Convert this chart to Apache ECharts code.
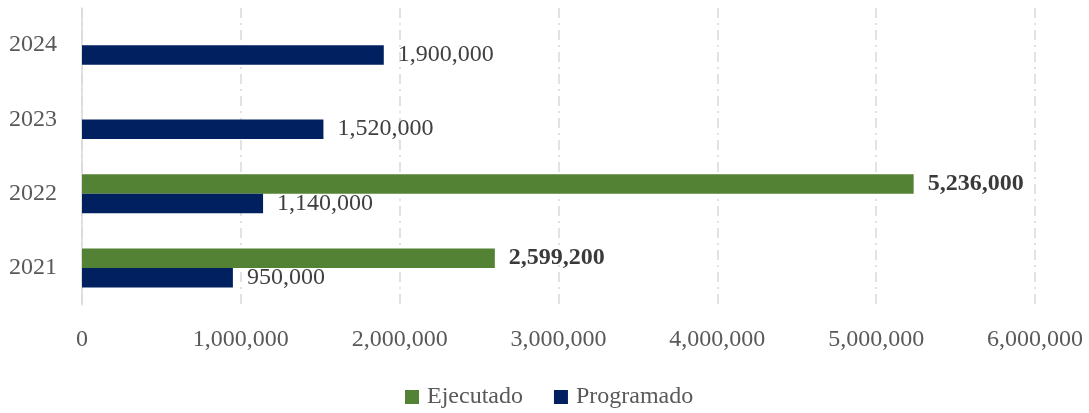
<!DOCTYPE html>
<html>
<head>
<meta charset="utf-8">
<script src="https://cdn.jsdelivr.net/npm/echarts@6/dist/echarts.min.js"></script>
<style>
  html, body { margin: 0; padding: 0; background: #fff; }
  #chart { width: 1089px; height: 413px; }
</style>
</head>
<body>
<div id="chart"></div>
<script>
// Años (de abajo hacia arriba) y montos por serie
const years = ['2021', '2022', '2023', '2024'];
const ejecutado = [2599200, 5236000, null, null];
const programado = [950000, 1140000, 1520000, 1900000];
const seriesNames = ['Ejecutado', 'Programado'];

const FONT = '"Liberation Serif", "DejaVu Serif", serif';
const SIZE = 24;
const fmt = v => Number(v).toLocaleString('en-US');

const chart = echarts.init(document.getElementById('chart'), null, { renderer: 'canvas' });

chart.setOption({
  animation: false,
  textStyle: { fontFamily: FONT },
  grid: { left: 82, right: 54, top: 8, bottom: 108, containLabel: false },
  legend: {
    data: seriesNames,
    top: 380,
    left: 400,
    itemWidth: 14,
    itemHeight: 14,
    itemGap: 31,
    icon: 'rect',
    textStyle: { fontFamily: FONT, fontSize: SIZE, color: '#595959', padding: [0, 0, 0, 3] }
  },
  xAxis: {
    type: 'value',
    min: 0,
    max: 6000000,
    interval: 1000000,
    axisLine: { show: false },
    axisTick: { show: false },
    axisLabel: {
      margin: 23,
      fontFamily: FONT,
      fontSize: SIZE,
      color: '#595959',
      formatter: v => fmt(v)
    },
    splitLine: {
      show: true,
      lineStyle: { color: '#d9d9d9', width: 1.5, type: [10, 5, 2, 5] }
    }
  },
  yAxis: {
    type: 'category',
    data: years,
    axisLine: { show: true, lineStyle: { color: '#d9d9d9', width: 1.5 } },
    axisTick: { show: false },
    axisLabel: {
      margin: 25,
      fontFamily: FONT,
      fontSize: SIZE,
      color: '#595959'
    },
    splitLine: { show: false }
  },
  series: [
    {
      name: 'Ejecutado',
      type: 'bar',
      data: ejecutado,
      barWidth: 19.5,
      barGap: '0%',
      itemStyle: { color: '#548235' },
      label: {
        show: true,
        position: 'right',
        distance: 14,
        fontFamily: FONT,
        fontSize: SIZE,
        fontWeight: 'bold',
        color: '#3a3a3a',
        formatter: p => fmt(p.value)
      }
    },
    {
      name: 'Programado',
      type: 'bar',
      data: programado,
      barWidth: 19.5,
      barGap: '0%',
      itemStyle: { color: '#002060' },
      label: {
        show: true,
        position: 'right',
        distance: 14,
        fontFamily: FONT,
        fontSize: SIZE,
        color: '#404040',
        formatter: p => fmt(p.value)
      }
    }
  ]
});
</script>
</body>
</html>
